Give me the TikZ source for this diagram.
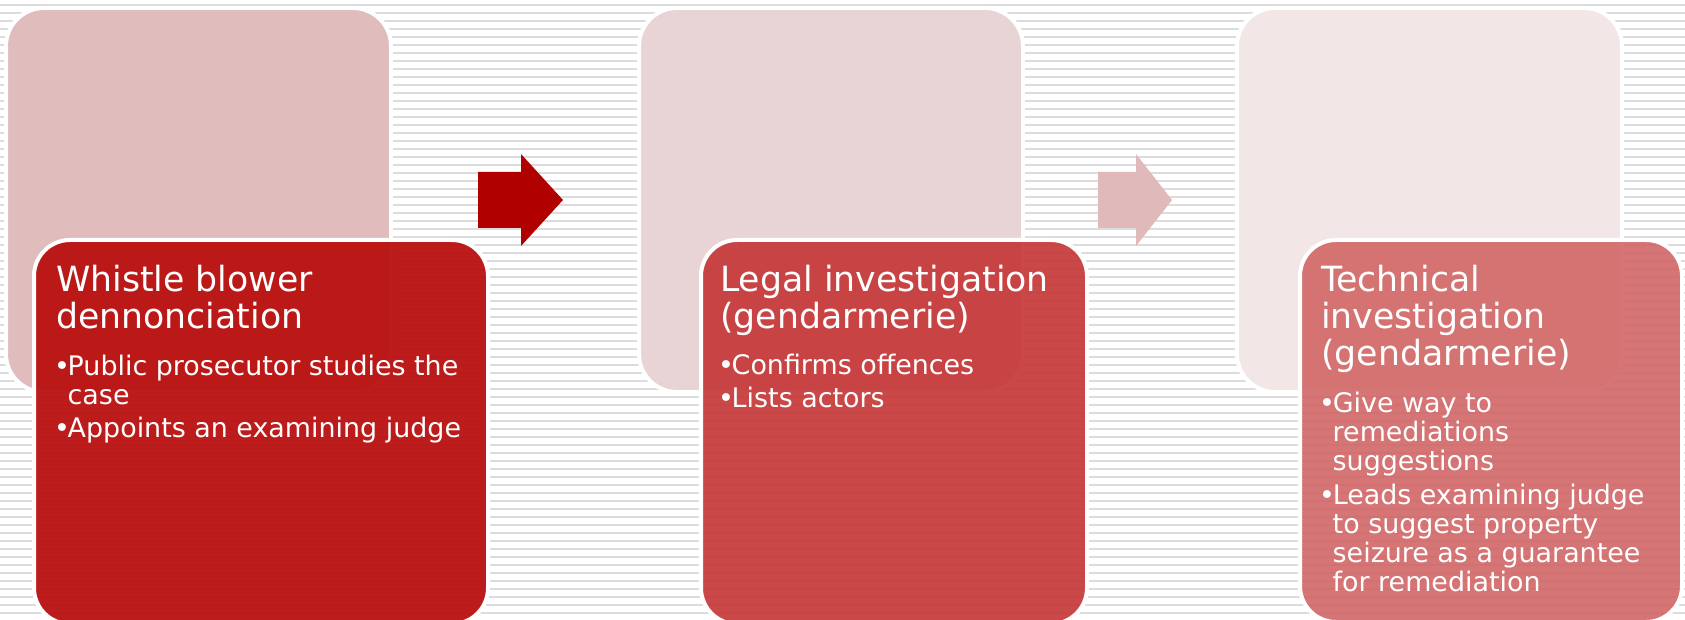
\documentclass[tikz,border=0pt]{standalone}
\usepackage{fontspec}
\setmainfont{DejaVu Sans}
\definecolor{stripegray}{HTML}{DCDCDC}
\definecolor{backA}{HTML}{E0BCBC}
\definecolor{backB}{HTML}{E8D4D4}
\definecolor{backC}{HTML}{F2E6E6}
\definecolor{frontA}{HTML}{BA1010}
\definecolor{frontB}{HTML}{C53535}
\definecolor{frontC}{HTML}{D26666}
\definecolor{arrowA}{HTML}{B00000}
\definecolor{arrowB}{HTML}{E0BABA}
\newcommand\bulmark{\makebox[11.5pt][l]{\kern-2pt•}}
\tikzset{
  stripe/.style={draw=stripegray, line width=1.6pt},
  backbox/.style={draw=white, line width=4pt, rounded corners=38pt},
  frontbox/.style={draw=white, line width=4pt, rounded corners=36pt},
  ttl/.style={text=white, inner sep=0pt, anchor=base west, font=\fontsize{34.7}{37}\selectfont},
  bul/.style={text=white, inner sep=0pt, anchor=base west, font=\fontsize{26.9}{29}\selectfont},
}
\begin{document}
\begin{tikzpicture}[x=1pt,y=-1pt]
\useasboundingbox (0,0) rectangle (1685,620);
\clip (0,0) rectangle (1685,620);
\fill[white] (0,0) rectangle (1685,620);
\foreach \k in {0,...,76} \draw[stripe] (0,5+8*\k) -- (1685,5+8*\k);
% back boxes
\path[backbox, fill=backA] (6,8) rectangle (391,392);
\path[backbox, fill=backB] (639,8) rectangle (1023,392);
\path[backbox, fill=backC] (1237,8) rectangle (1622,392);
% arrows
\fill[arrowA] (478,172) -- (521,172) -- (521,154) -- (563,200) -- (521,246) -- (521,228) -- (478,228) -- cycle;
\fill[arrowB] (1098,172) -- (1136,172) -- (1136,154) -- (1172,200) -- (1136,246) -- (1136,228) -- (1098,228) -- cycle;
% front boxes
\path[frontbox, fill=frontA, fill opacity=0.95] (34,240) rectangle (488,624);
\path[frontbox, fill=frontB, fill opacity=0.9] (701,240) rectangle (1087,624);
\path[frontbox, fill=frontC, fill opacity=0.9] (1300,240) rectangle (1682,622);
% box 1 text
\node[ttl] (a1) at (56,291) {Whistle blower};
\node[ttl] (a2) at (56,328) {dennonciation};
\node[bul] (a3) at (56,375) {\bulmark Public prosecutor studies the};
\node[bul] (a4) at (67.5,404) {case};
\node[bul] (a5) at (56,437) {\bulmark Appoints an examining judge};
% box 2 text
\node[ttl] (b1) at (720,291) {Legal investigation};
\node[ttl] (b2) at (720,328) {(gendarmerie)};
\node[bul] (b3) at (720,374) {\bulmark Confirms offences};
\node[bul] (b4) at (720,407) {\bulmark Lists actors};
% box 3 text
\node[ttl] (c1) at (1321,291) {Technical};
\node[ttl] (c2) at (1321,328) {investigation};
\node[ttl] (c3) at (1321,365) {(gendarmerie)};
\node[bul] (c4) at (1321,412) {\bulmark Give way to};
\node[bul] (c5) at (1332.5,441) {remediations};
\node[bul] (c6) at (1332.5,470) {suggestions};
\node[bul] (c7) at (1321,504) {\bulmark Leads examining judge};
\node[bul] (c8) at (1332.5,533) {to suggest property};
\node[bul] (c9) at (1332.5,562) {seizure as a guarantee};
\node[bul] (c10) at (1332.5,591) {for remediation};
\end{tikzpicture}
\end{document}
